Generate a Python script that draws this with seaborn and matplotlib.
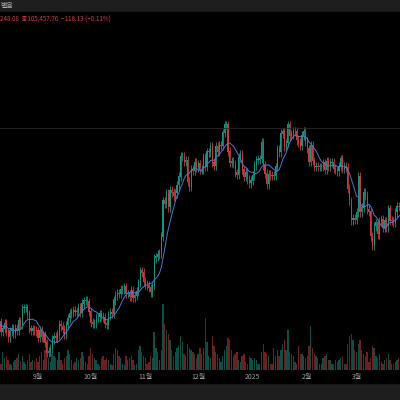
import numpy as np
import pandas as pd
import matplotlib
matplotlib.use("Agg")
import matplotlib.pyplot as plt
import seaborn as sns
from matplotlib.patches import Rectangle

sns.set_style("dark")
plt.rcParams['font.family'] = ['Noto Sans CJK KR', 'DejaVu Sans']

# daily closes (k USD), Aug 9 2024 .. Mar 27 2025
closes = [
 60.9,61.0,58.7,59.4,60.6,58.7,57.5,58.9,59.5,58.4,59.5,59.0,61.2,60.4,64.1,64.2,64.2,62.8,59.4,59.0,59.4,59.1,58.9,
 57.3,59.1,57.5,58.0,56.2,53.9,54.2,54.9,57.0,57.6,57.3,58.1,60.5,60.0,59.2,58.2,60.3,61.8,63.0,63.2,63.6,63.3,63.3,64.3,63.1,65.2,65.8,65.9,65.6,63.3,
 60.8,60.6,60.7,62.1,62.1,62.8,62.2,62.1,60.6,60.3,62.4,63.2,62.9,66.0,67.0,67.6,67.4,68.4,68.4,69.0,67.4,67.4,66.7,68.2,66.6,67.0,67.9,69.9,72.7,72.3,70.2,
 69.5,69.4,68.8,67.8,69.4,75.6,75.9,76.5,76.7,80.5,88.7,88.0,90.5,87.3,91.1,90.6,89.8,90.5,92.3,94.3,98.9,98.9,97.7,98.0,93.1,91.9,95.9,95.6,97.5,96.4,
 97.2,95.9,96.0,98.8,96.6,99.9,99.9,101.2,97.4,96.7,101.2,100.0,101.4,101.4,104.3,106.1,106.1,100.0,97.5,97.8,97.2,95.1,94.7,98.7,99.4,95.8,94.2,95.2,93.7,92.8,93.4,
 94.6,96.9,98.1,98.2,98.3,102.1,96.9,95.0,92.5,94.7,94.6,94.5,94.5,96.5,100.5,99.9,104.1,104.5,101.1,102.0,106.1,103.7,104.0,104.7,104.7,102.6,102.1,101.3,103.7,104.7,102.4,
 100.6,97.7,101.4,97.9,96.6,96.6,96.5,96.5,96.5,97.4,95.8,97.8,96.6,97.5,97.6,96.1,95.8,95.5,96.6,98.3,96.1,96.6,96.3,91.5,88.7,84.3,84.7,84.4,
 86.0,94.3,86.1,87.2,90.6,89.9,86.7,86.2,80.6,78.5,82.9,83.7,81.1,84.0,84.4,82.6,84.1,82.7,86.9,84.2,84.1,83.8,86.1,87.5,87.4,86.9,87.2,
]
volumes = [
 10,8,6,18,12,14,10,6,5,8,10,12,16,9,14,8,6,10,16,8,10,9,12,
 8,14,18,10,20,30,12,8,16,14,12,10,18,10,6,12,14,20,16,10,6,8,12,10,12,18,14,8,6,14,
 22,16,12,10,6,4,12,14,10,12,10,6,5,16,22,20,14,12,6,5,14,10,12,14,10,5,6,20,24,18,14,
 12,6,8,14,12,38,22,18,10,20,66,46,40,36,30,20,14,18,22,24,34,28,16,14,26,22,20,18,16,12,
 16,22,16,22,52,28,14,12,34,24,18,16,12,8,14,20,24,32,30,20,14,16,18,10,8,14,16,8,6,14,12,
 10,12,10,6,6,18,26,18,16,14,6,6,22,14,20,14,20,26,30,20,40,18,16,14,8,6,24,16,16,14,12,
 14,24,44,22,16,14,12,6,6,12,14,16,10,10,6,6,10,8,10,12,14,6,6,26,34,36,30,20,
 18,26,30,20,16,14,18,8,12,24,22,14,12,16,8,6,10,12,16,10,6,6,8,10,12,10,8,
]
month_labels = ["9월", "10월", "11월", "12월", "2025", "2월", "3월"]
month_idx = [23, 53, 84, 114, 145, 176, 204]
last_price = 105.46

n = min(len(closes), len(volumes))
c = np.array(closes[:n])
o = np.r_[c[0], c[:-1]]
hi = np.maximum(o, c) + 1.0
lo = np.minimum(o, c) - 1.0
x = np.arange(n)
up = c >= o
UP, DN = "#1f8f7f", "#c43a3e"
cols = np.where(up, UP, DN)

fig = plt.figure(figsize=(4, 4), dpi=100, facecolor="#1e1e1e")
fig.patches.append(Rectangle((0, 0.0425), 1, 0.9275, transform=fig.transFigure,
                             color="black", zorder=-5))

axv = fig.add_axes([0, 0.075, 1, 0.895])
axv.set_facecolor("none")
axv.bar(x, volumes[:n], width=0.75, color=cols, alpha=0.55, linewidth=0)
axv.set_ylim(0, 358)
axv.set_xlim(1.4, 228.7)
axv.axis("off")

ax = fig.add_axes([0, 0.075, 1, 0.895])
ax.set_facecolor("none")
ax.vlines(x, lo, hi, colors=cols, linewidth=0.6)
ax.bar(x, np.abs(c - o) + 0.15, bottom=np.minimum(o, c), width=0.65, color=cols, linewidth=0)
df = pd.DataFrame({"d": x, "ma": pd.Series(c).rolling(9, min_periods=1).mean()})
sns.lineplot(data=df, x="d", y="ma", ax=ax, color="#4a78d0", linewidth=0.7)
ax.axhline(last_price, color="#2c2626", linewidth=0.6)

ax.set_xlim(1.4, 228.7)
ax.set_ylim(50, 132)
ax.set_yticks([])
ax.set_xticks(month_idx)
ax.set_xticklabels(month_labels, color="#a0a0a0", fontsize=5)
ax.tick_params(axis="x", length=0, pad=2)
ax.set_xlabel(""); ax.set_ylabel("")
for s in ax.spines.values():
    s.set_visible(False)
ax.grid(False)

fig.text(0.0, 0.985, "별음", color="#b0b0b0", fontsize=5, va="center")
fig.text(0.0, 0.95, "248.08  종105,457.76  −118.13 (−0.11%)", color="#d04048", fontsize=4.5, va="center")

fig.savefig("out.png", dpi=100, facecolor=fig.get_facecolor())
